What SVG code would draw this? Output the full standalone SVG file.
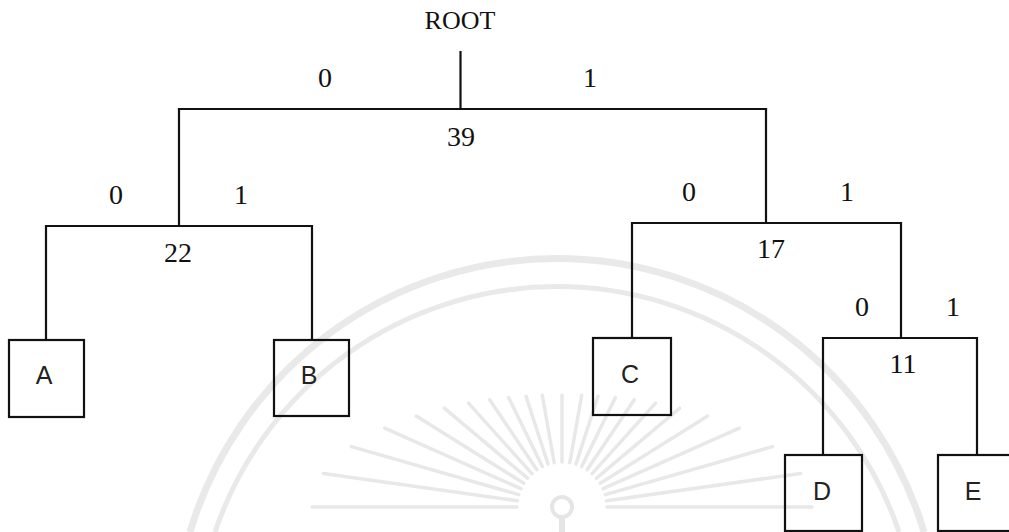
<svg xmlns="http://www.w3.org/2000/svg" width="1009" height="532" viewBox="0 0 1009 532">
  <style>
    .edge { fill: none; stroke: #111; stroke-width: 2.2; stroke-linecap: square; }
    .box { fill: none; stroke: #111; stroke-width: 2.2; }
    .num { font-family: "Liberation Serif", "Times New Roman", serif; font-size: 28px; fill: #111; text-anchor: middle; }
    .title { font-size: 26px; }
    .leaf { font-family: "Liberation Sans", Arial, sans-serif; font-size: 25px; fill: #222; text-anchor: middle; }
    .band { fill: none; stroke: #e9e9e9; }
    .ray { stroke: #e8e8e8; stroke-width: 3.5; stroke-linecap: round; }
  </style>

  <rect width="1009" height="532" fill="#ffffff"/>

  <!-- faint background seal: two bands, a fan of rays and a small keyhole -->
  <g id="seal">
    <path class="band" stroke-width="7" d="M190 532 A383 383 0 0 1 924 532"/>
    <path class="band" stroke-width="5" d="M215 532 A361 361 0 0 1 899 532"/>
    <g class="ray">
      <line x1="517" y1="507" x2="312" y2="507"/>
      <line x1="517.4" y1="500.7" x2="323.4" y2="473.5"/>
      <line x1="518.7" y1="494.6" x2="351.4" y2="446.6"/>
      <line x1="520.9" y1="488.7" x2="384.7" y2="428.1"/>
      <line x1="523.8" y1="483.2" x2="416.3" y2="416"/>
      <line x1="527.5" y1="478.1" x2="444.3" y2="408.2"/>
      <line x1="531.9" y1="473.6" x2="468.5" y2="403.1"/>
      <line x1="536.8" y1="469.7" x2="489.7" y2="399.8"/>
      <line x1="542.3" y1="466.6" x2="508.6" y2="397.6"/>
      <line x1="548.1" y1="464.2" x2="526" y2="396.2"/>
      <line x1="554.2" y1="462.7" x2="542.3" y2="395.3"/>
      <line x1="562" y1="462" x2="562" y2="395"/>
      <line x1="569.8" y1="462.7" x2="581.7" y2="395.3"/>
      <line x1="575.9" y1="464.2" x2="598" y2="396.2"/>
      <line x1="581.7" y1="466.6" x2="615.4" y2="397.6"/>
      <line x1="587.2" y1="469.7" x2="634.3" y2="399.8"/>
      <line x1="592.1" y1="473.6" x2="655.5" y2="403.1"/>
      <line x1="596.5" y1="478.1" x2="679.7" y2="408.2"/>
      <line x1="600.2" y1="483.2" x2="707.7" y2="416"/>
      <line x1="603.1" y1="488.7" x2="739.3" y2="428.1"/>
      <line x1="605.3" y1="494.6" x2="772.6" y2="446.6"/>
      <line x1="606.6" y1="500.7" x2="800.6" y2="473.5"/>
      <line x1="607" y1="507" x2="812" y2="507"/>
    </g>
    <circle cx="562" cy="507" r="10" fill="none" stroke="#e5e5e5" stroke-width="4"/>
    <path d="M562 517 V532" stroke="#e5e5e5" stroke-width="6"/>
  </g>

  <!-- branches of the tree and their bit labels -->
  <g id="connectors">
    <path class="edge" d="M460.5 52 V109 M179 109 H766"/>
    <path class="edge" d="M179 109 V226 M46 226 H312 M46 226 V340 M312 226 V340"/>
    <path class="edge" d="M766 109 V223 M632 223 H901 M632 223 V338 M901 223 V338"/>
    <path class="edge" d="M823 338 H977 M823 338 V455 M977 338 V455"/>
    <g class="num">
      <text x="325" y="87">0</text>
      <text x="590" y="87">1</text>
      <text x="116" y="204">0</text>
      <text x="241" y="204">1</text>
      <text x="689" y="201">0</text>
      <text x="847" y="201">1</text>
      <text x="862" y="316">0</text>
      <text x="953" y="316">1</text>
    </g>
  </g>

  <!-- internal nodes (weights) -->
  <g id="node-root"><text class="num title" x="460" y="29">ROOT</text></g>
  <g id="node-39"><text class="num" x="461" y="146">39</text></g>
  <g id="node-22"><text class="num" x="178" y="262">22</text></g>
  <g id="node-17"><text class="num" x="771" y="258">17</text></g>
  <g id="node-11"><text class="num" x="903" y="373">11</text></g>

  <!-- leaf symbols -->
  <g id="node-A">
    <rect class="box" x="9" y="340" width="75" height="77"/>
    <text class="leaf" x="44" y="384">A</text>
  </g>
  <g id="node-B">
    <rect class="box" x="274" y="340" width="75" height="76"/>
    <text class="leaf" x="309" y="384">B</text>
  </g>
  <g id="node-C">
    <rect class="box" x="593" y="338" width="78" height="77"/>
    <text class="leaf" x="630" y="383">C</text>
  </g>
  <g id="node-D">
    <rect class="box" x="785" y="455" width="77" height="76"/>
    <text class="leaf" x="822" y="500">D</text>
  </g>
  <g id="node-E">
    <rect class="box" x="938" y="455" width="77" height="76"/>
    <text class="leaf" x="973" y="500">E</text>
  </g>
</svg>
